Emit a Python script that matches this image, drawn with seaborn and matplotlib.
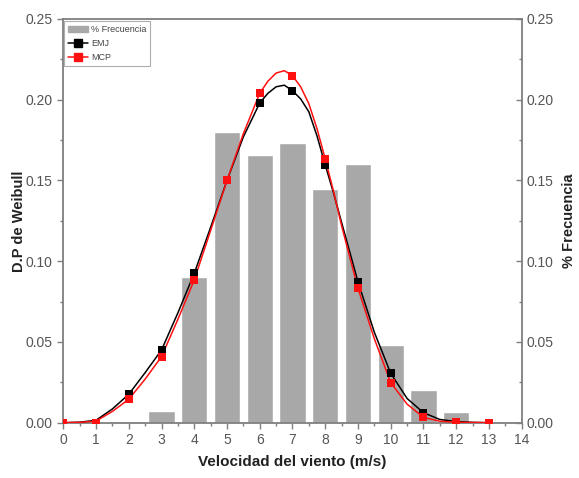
import numpy as np
import pandas as pd
import matplotlib
matplotlib.use("Agg")
import matplotlib.pyplot as plt
import seaborn as sns
from matplotlib.ticker import MultipleLocator, FormatStrFormatter
from matplotlib.patches import Patch
from matplotlib.lines import Line2D

# ---- data ----
bar_x = [3, 4, 5, 6, 7, 8, 9, 10, 11, 12]
bar_freq = [0.007, 0.090, 0.180, 0.166, 0.173, 0.145, 0.160, 0.048, 0.020, 0.0065]

marker_x = [0, 1, 2, 3, 4, 5, 6, 7, 8, 9, 10, 11, 12, 13]
emj_marker = [0.0, 0.0, 0.0176, 0.045, 0.0925, 0.150, 0.198, 0.2056, 0.1596, 0.0873,
              0.0306, 0.0062, 0.0007, 0.0]
mcp_marker = [0.0, 0.0, 0.0145, 0.0409, 0.0884, 0.150, 0.204, 0.2149, 0.1633, 0.0832,
              0.0248, 0.0033, 0.0003, 0.0]

# curve values
curve_x = [0, 0.5, 1, 1.5, 2, 2.5, 3, 3.5, 4, 4.5, 5, 5.5, 6, 6.25, 6.5, 6.75, 7, 7.25,
           7.5, 7.75, 8, 8.25, 8.5, 9, 9.5, 10, 10.5, 11, 11.5, 12, 12.5, 13]
emj_curve = [0.0, 0.0003, 0.0015, 0.0085, 0.0176, 0.031, 0.045, 0.068, 0.0925, 0.121,
             0.150, 0.177, 0.198, 0.2040, 0.2080, 0.2090, 0.2056, 0.2005, 0.1925, 0.1775,
             0.1596, 0.1425, 0.124, 0.0873, 0.056, 0.0306, 0.0150, 0.0062, 0.0020,
             0.0007, 0.0002, 0.0]
mcp_curve = [0.0, 0.0002, 0.0010, 0.0070, 0.0145, 0.027, 0.0409, 0.064, 0.0884, 0.119,
             0.150, 0.179, 0.204, 0.2115, 0.2165, 0.2180, 0.2149, 0.2080, 0.1975, 0.1820,
             0.1633, 0.1435, 0.122, 0.0832, 0.052, 0.0248, 0.0115, 0.0033, 0.0009,
             0.0003, 0.0001, 0.0]

sns.set_theme(style="white")
plt.rcParams["font.family"] = ["Liberation Sans", "DejaVu Sans"]

fig = plt.figure(figsize=(5.79, 4.78), dpi=100)
ax = fig.add_axes([0.1093, 0.1157, 0.7917, 0.8446])

bars_df = pd.DataFrame({"x": bar_x, "y": bar_freq})
sns.barplot(data=bars_df, x="x", y="y", native_scale=True, width=0.8,
            color="#a8a8a8", saturation=1, ax=ax, zorder=1)

cdf = pd.DataFrame({"x": curve_x, "emj": emj_curve, "mcp": mcp_curve})
mdf = pd.DataFrame({"x": marker_x, "emj": emj_marker, "mcp": mcp_marker})

red = "#ff1010"
sns.lineplot(data=cdf, x="x", y="emj", color="black", lw=1.1, ax=ax, zorder=3)
sns.lineplot(data=cdf, x="x", y="mcp", color=red, lw=1.1, ax=ax, zorder=4)
sns.scatterplot(data=mdf, x="x", y="emj", color="black", marker="s", s=36,
                linewidth=0, ax=ax, zorder=5)
sns.scatterplot(data=mdf, x="x", y="mcp", color=red, marker="s", s=36,
                linewidth=0, ax=ax, zorder=6)

ax.set_xlim(0, 14)
ax.set_ylim(0, 0.25)
ax.xaxis.set_major_locator(MultipleLocator(1))
ax.xaxis.set_minor_locator(MultipleLocator(0.5))
ax.yaxis.set_major_locator(MultipleLocator(0.05))
ax.yaxis.set_minor_locator(MultipleLocator(0.025))
ax.yaxis.set_major_formatter(FormatStrFormatter("%.2f"))

spine_c = "#7f7f7f"
tick_c = "#555555"
for sp in ax.spines.values():
    sp.set_color(spine_c)
    sp.set_linewidth(1.3)
ax.tick_params(axis="both", which="major", direction="out", length=4, width=1,
               color=spine_c, labelsize=10, labelcolor=tick_c, bottom=True, left=True)
ax.tick_params(axis="both", which="minor", direction="out", length=2, width=1,
               color=spine_c, bottom=True, left=True)

ax.set_xlabel("Velocidad del viento (m/s)", fontsize=11, fontweight="bold",
              color="#222222", labelpad=6)
ax.set_ylabel("D.P de Weibull", fontsize=10.5, fontweight="bold", color="#222222",
              labelpad=0)

ax2 = ax.twinx()
ax2.set_ylim(0, 0.25)
ax2.yaxis.set_major_locator(MultipleLocator(0.05))
ax2.yaxis.set_minor_locator(MultipleLocator(0.025))
ax2.yaxis.set_major_formatter(FormatStrFormatter("%.2f"))
ax2.tick_params(axis="y", which="major", direction="in", length=4, width=1,
                color=spine_c, labelsize=10, labelcolor=tick_c, right=True)
ax2.tick_params(axis="y", which="minor", direction="in", length=2, width=1,
                color=spine_c, right=True)
for sp in ax2.spines.values():
    sp.set_visible(False)
ax2.grid(False)
ax2.set_ylabel("% Frecuencia", fontsize=10.5, fontweight="bold", color="#222222",
               labelpad=6)

handles = [Patch(facecolor="#a8a8a8", edgecolor="#a8a8a8"),
           Line2D([], [], color="black", marker="s", markersize=5.5, lw=1.1),
           Line2D([], [], color=red, marker="s", markersize=5.5, lw=1.1)]
leg = ax.legend(handles, ["% Frecuencia", "EMJ", "MCP"], loc="upper left",
                bbox_to_anchor=(0.002, 0.994), borderaxespad=0, fontsize=6.5,
                frameon=True, fancybox=False, handlelength=2.2, handletextpad=0.4,
                borderpad=0.4, labelspacing=0.55)
leg.get_frame().set_edgecolor("#999999")
leg.get_frame().set_linewidth(0.8)
for t in leg.get_texts():
    t.set_color("#444444")

fig.savefig("out.png", dpi=100)
